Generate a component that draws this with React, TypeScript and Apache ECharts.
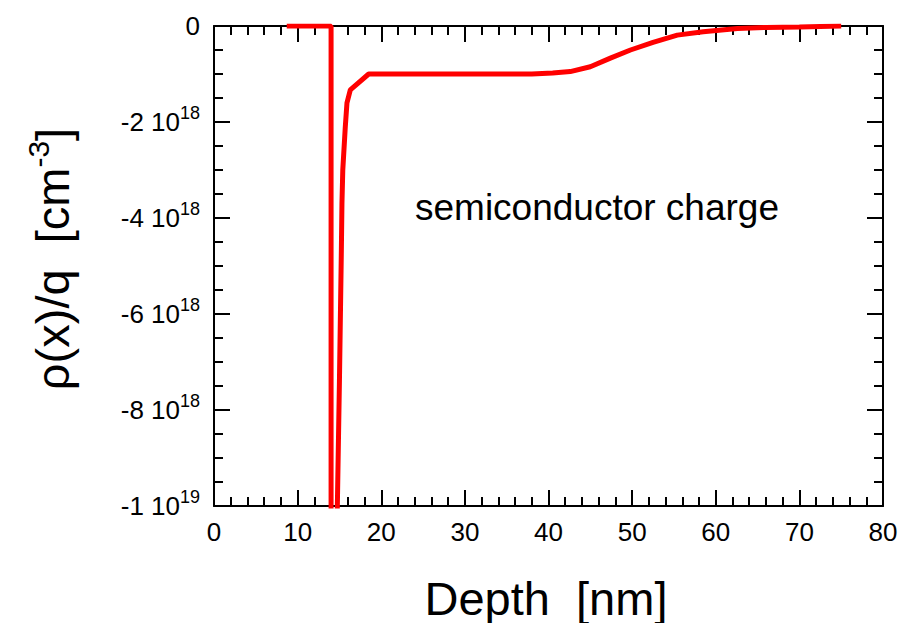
import React, { useEffect, useRef } from "react";
import * as echarts from "echarts";

// Depth in nm
const depth = [8.7, 14.0, 14.0, 14.66, 14.75, 15.0, 15.23, 15.3, 15.4, 15.7, 15.9, 16.3, 18.5, 30, 38, 40.5, 42.6, 45, 47.4, 49.8, 52.5, 55.4, 58.5, 62.6, 66, 70, 75];
// charge density in units of 1e18 cm^-3
const charge = [0, 0, -11, -11, -10, -7.4, -4.67, -3.7, -3.0, -2.1, -1.6, -1.33, -1.0, -1.0, -1.0, -0.98, -0.95, -0.85, -0.67, -0.5, -0.34, -0.19, -0.12, -0.05, -0.03, -0.02, 0];

const xTicks = { min: 0, max: 80, interval: 10 };
const yTicks = { min: -10, max: 0, interval: 2 };
const annotation = "semiconductor charge";
const xTitle = "Depth  [nm]";
const yTitleMain = "ρ(x)/q  [cm";
const yTitleSup = "-3";

const FONT = "'Liberation Sans', Arial, Helvetica, sans-serif";

function yLabel(v: number): string {
  if (Math.abs(v) < 1e-9) return "0";
  const real = v * 1e18;
  const exp = Math.floor(Math.log10(Math.abs(real)) + 1e-9);
  const mant = Math.round(real / Math.pow(10, exp));
  return `{m|${mant} 10}{s|${exp}}`;
}

export default function App() {
  const ref = useRef<HTMLDivElement>(null);
  useEffect(() => {
    document.body.style.margin = "0";
    const chart = echarts.init(ref.current!, null, { renderer: "svg" });
    const axisLine = { show: true, onZero: false, lineStyle: { color: "#000", width: 2 } };
    const tick = { show: true, inside: true, length: 16, lineStyle: { color: "#000", width: 2 } };
    const minor = { show: true, length: 9, lineStyle: { color: "#000", width: 2 } };
    const data = depth.map((d, i) => [d, charge[i]]);
    chart.setOption({
      animation: false,
      backgroundColor: "#fff",
      grid: { left: 214, right: 19, top: 26, bottom: 117, containLabel: false },
      xAxis: [
        {
          type: "value", ...xTicks, position: "bottom",
          axisLine, axisTick: tick, minorTick: { ...minor, splitNumber: 5 },
          splitLine: { show: false },
          axisLabel: { fontSize: 26, color: "#000", fontFamily: FONT, margin: 13 },
        },
        {
          type: "value", ...xTicks, position: "top",
          axisLine, axisTick: tick, minorTick: { ...minor, splitNumber: 5 },
          splitLine: { show: false }, axisLabel: { show: false },
        },
      ],
      yAxis: [
        {
          type: "value", ...yTicks, position: "left",
          axisLine, axisTick: tick, minorTick: { ...minor, splitNumber: 4 },
          splitLine: { show: false },
          axisLabel: {
            formatter: yLabel, margin: 14, color: "#000", fontFamily: FONT, fontSize: 26,
            rich: {
              m: { fontSize: 26, color: "#000", fontFamily: FONT },
              s: { fontSize: 18, color: "#000", fontFamily: FONT, padding: [0, 0, 18, 0] },
            },
          },
        },
        {
          type: "value", ...yTicks, position: "right",
          axisLine, axisTick: tick, minorTick: { ...minor, splitNumber: 4 },
          splitLine: { show: false }, axisLabel: { show: false },
        },
      ],
      series: [
        {
          type: "line", data, showSymbol: false, symbol: "none", clip: true,
          lineStyle: { color: "#ff0000", width: 5 }, z: 5,
        },
      ],
      graphic: [
        {
          type: "text", x: 597, y: 207,
          style: { text: annotation, fontSize: 37, fontFamily: FONT, fill: "#000", align: "center", verticalAlign: "middle" },
        },
        {
          type: "text", x: 546, y: 598,
          style: { text: xTitle, fontSize: 47, fontFamily: FONT, fill: "#000", align: "center", verticalAlign: "middle" },
        },
        {
          type: "text", x: 52, y: 259, rotation: Math.PI / 2,
          style: {
            text: `{a|${yTitleMain}}{s|${yTitleSup}}{a|]}`,
            align: "center", verticalAlign: "middle",
            rich: {
              a: { fontSize: 47, fontFamily: FONT, fill: "#000" },
              s: { fontSize: 30, fontFamily: FONT, fill: "#000", padding: [0, 0, 28, 0] },
            },
          },
        },
      ],
    });
    return () => chart.dispose();
  }, []);
  return <div ref={ref} style={{ width: 902, height: 623 }} />;
}
